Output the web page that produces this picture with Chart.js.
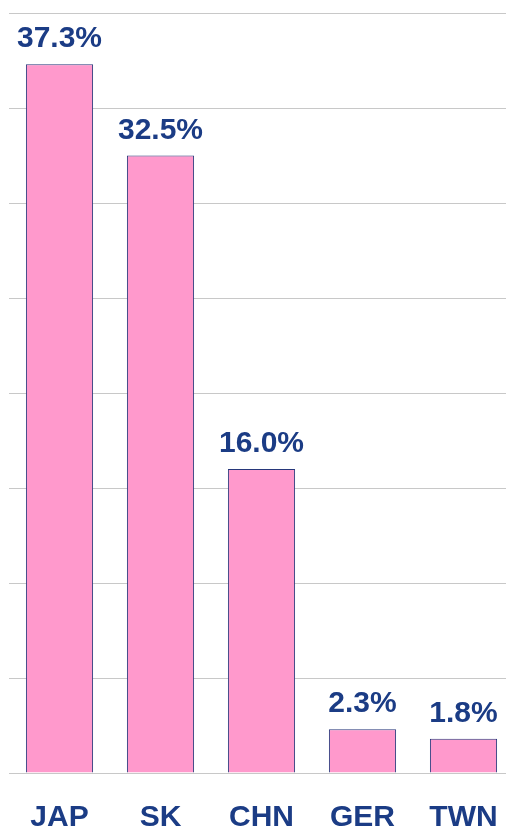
<!DOCTYPE html>
<html>
<head>
<meta charset="utf-8">
<script src="https://cdn.jsdelivr.net/npm/chart.js@4.4.0/dist/chart.umd.min.js"></script>
<style>
  html, body { margin:0; padding:0; background:#fff; overflow:hidden; }
  #wrap { width:506px; height:827px; overflow:hidden; }
  #c { display:block; }
</style>
</head>
<body>
<div id="wrap"><canvas id="c" width="520" height="827" style="width:520px;height:827px"></canvas></div>
<script>
// data
var COUNTRIES = ["JAP", "SK", "CHN", "GER", "TWN"];
var SHARES    = [37.3, 32.5, 16.0, 2.3, 1.8];
var Y_MAX = 40;
var Y_STEP = 5;

var BLUE = "#1b3c85";

// value labels over bars
var valueLabels = {
  id: "valueLabels",
  afterDatasetsDraw: function(chart){
    var ctx = chart.ctx;
    var meta = chart.getDatasetMeta(0);
    ctx.save();
    ctx.font = "bold 30px 'Liberation Sans', Arial, sans-serif";
    ctx.fillStyle = BLUE;
    ctx.textAlign = "center";
    ctx.textBaseline = "alphabetic";
    for (var i=0;i<meta.data.length;i++){
      var bar = meta.data[i];
      ctx.fillText(SHARES[i].toFixed(1) + "%", bar.x, bar.y - 17);
    }
    ctx.restore();
  }
};

new Chart(document.getElementById("c").getContext("2d"), {
  type: "bar",
  data: {
    labels: COUNTRIES,
    datasets: [{
      data: SHARES,
      backgroundColor: "#ff99cc",
      borderColor: "#27377a",
      borderWidth: 1,
      barPercentage: 0.665,
      categoryPercentage: 1
    }]
  },
  options: {
    responsive: false,
    animation: false,
    layout: { padding: { left: 9, right: 6, top: 13, bottom: 0 } },
    plugins: { legend: { display: false }, tooltip: { enabled: false } },
    scales: {
      x: {
        // tick length (grid hidden) pushes labels down without widening the side padding
        grid: { display: false, drawTicks: true, tickLength: 30 },
        border: { display: false },
        ticks: {
          color: BLUE,
          padding: 0,
          font: { family: "'Liberation Sans', Arial, sans-serif", size: 30, weight: "bold", lineHeight: 1 }
        },
        afterFit: function(s){ s.height = 54; }
      },
      y: {
        min: 0, max: Y_MAX,
        ticks: { display: false, stepSize: Y_STEP },
        grid: { color: "#c8c8c8", lineWidth: 1, drawTicks: false },
        border: { display: false },
        afterFit: function(s){ s.width = 0; }
      }
    }
  },
  plugins: [valueLabels]
});
</script>
</body>
</html>
